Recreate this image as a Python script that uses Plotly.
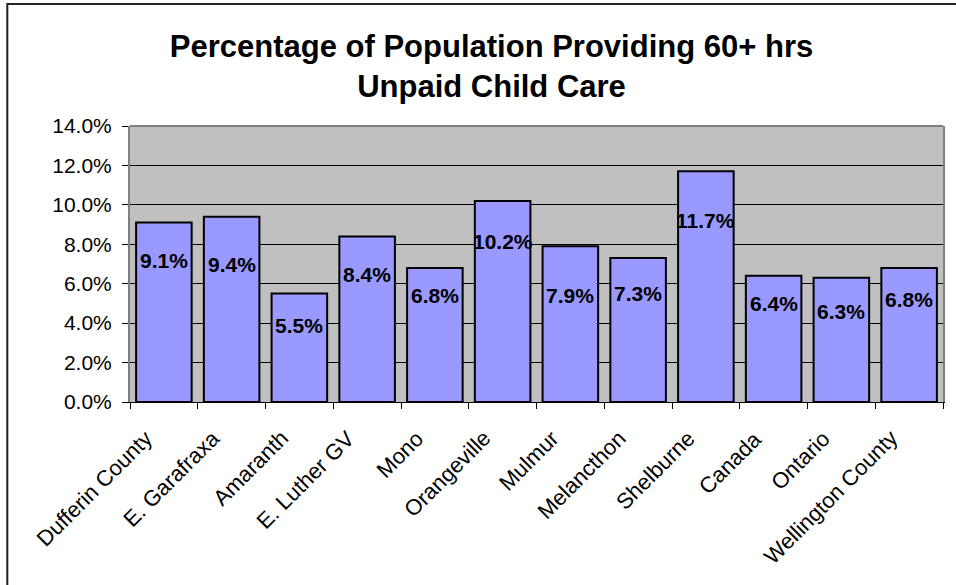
import plotly.graph_objects as go

categories = ["Dufferin County", "E. Garafraxa", "Amaranth", "E. Luther GV", "Mono",
              "Orangeville", "Mulmur", "Melancthon", "Shelburne", "Canada", "Ontario",
              "Wellington County"]
values = [9.1, 9.4, 5.5, 8.4, 6.8, 10.2, 7.9, 7.3, 11.7, 6.4, 6.3, 6.8]
y_ticks = [0, 2, 4, 6, 8, 10, 12, 14]
y_tick_labels = ["0.0%", "2.0%", "4.0%", "6.0%", "8.0%", "10.0%", "12.0%", "14.0%"]
# vertical placement of the value labels (as placed in the original chart)
label_pos = [7.20, 6.95, 3.87, 6.49, 5.38, 8.13, 5.39, 5.48, 9.23, 5.02, 4.57, 5.22]

FONT = "Liberation Sans, Arial, sans-serif"
W, H = 956, 585
L, R, T, B = 130, 11, 126, 183
pw = W - L - R
ph = H - T - B

fig = go.Figure()
fig.add_trace(go.Bar(
    x=categories, y=values,
    marker=dict(color="#9999FF", line=dict(color="black", width=2)),
    hoverinfo="x+y",
))

for c, v, p in zip(categories, values, label_pos):
    fig.add_annotation(x=c, y=p, xref="x", yref="y", text=f"<b>{v:.1f}%</b>",
                       showarrow=False, font=dict(family=FONT, size=21, color="black"))

# category labels, rotated 45 degrees, ending just left of each category centre
for c in categories:
    fig.add_annotation(x=c, y=0, xref="x", yref="paper", text=c, textangle=-45,
                       xanchor="right", yanchor="top", xshift=-4, yshift=-21,
                       showarrow=False, font=dict(family=FONT, size=22, color="black"))

# outer chart frame
fig.add_shape(type="rect", xref="paper", yref="paper",
              x0=(7 - L) / pw, x1=(W + 20 - L) / pw,
              y0=(H - B - (H + 20)) / ph, y1=(H - B - 4) / ph,
              line=dict(color="#222222", width=2), fillcolor="rgba(0,0,0,0)", layer="below")
# gray top border of the plot area
fig.add_shape(type="line", xref="paper", yref="paper", x0=0, x1=1, y0=1, y1=1,
              line=dict(color="#808080", width=2))

fig.update_layout(
    width=W, height=H,
    margin=dict(l=L, r=R, t=T, b=B, pad=0),
    paper_bgcolor="white",
    plot_bgcolor="#C0C0C0",
    bargap=0.18,
    showlegend=False,
    font=dict(family=FONT, color="black"),
    title=dict(text="<b>Percentage of Population Providing 60+ hrs<br>Unpaid Child Care</b>",
               x=491.5 / W, xanchor="center", y=1 - 57 / H, yanchor="top",
               font=dict(family=FONT, size=31, color="black")),
    xaxis=dict(
        type="category", tickson="boundaries", showticklabels=False,
        range=[-0.5, len(categories) - 0.5], autorange=False,
        ticks="outside", ticklen=6, tickcolor="black", tickwidth=1,
        showline=True, linecolor="black", linewidth=1,
        showgrid=False,
    ),
    yaxis=dict(
        range=[0, 14], autorange=False, tickvals=y_ticks, ticktext=y_tick_labels,
        ticks="outside", ticklen=6, tickcolor="black", tickwidth=1,
        showline=True, linecolor="#808080", linewidth=2, mirror=True,
        showgrid=True, gridcolor="black", gridwidth=1,
        zeroline=False, ticklabelstandoff=6,
        tickfont=dict(family=FONT, size=21, color="black"),
    ),
)

fig.write_html("out.html")
